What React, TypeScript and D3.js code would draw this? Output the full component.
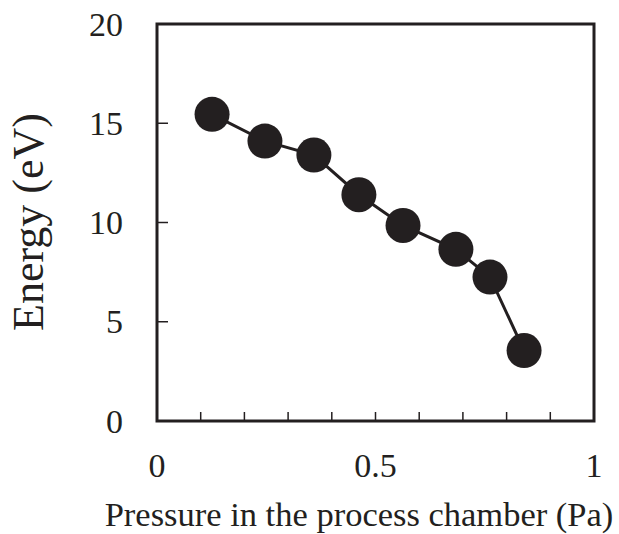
import React, { useEffect, useRef } from "react";
import * as d3 from "d3";

const pressure = [0.126, 0.247, 0.359, 0.462, 0.563, 0.684, 0.762, 0.84];
const energy = [15.45, 14.1, 13.4, 11.4, 9.85, 8.65, 7.25, 3.55];
const xTickLabels = [0, 0.5, 1];
const yTickLabels = [0, 5, 10, 15, 20];

const W = 619;
const H = 534;
const M = { left: 157, right: 25, top: 24, bottom: 113 };
const INK = "#231f20";
const FONT = "'Liberation Serif', 'Times New Roman', serif";

const App = () => {
  const svgRef = useRef<SVGSVGElement>(null);

  useEffect(() => {
    const svg = d3.select(svgRef.current);
    svg.selectAll("*").remove();

    const x = d3.scaleLinear().domain([0, 1]).range([M.left, W - M.right]);
    const y = d3.scaleLinear().domain([0, 20]).range([H - M.bottom, M.top]);

    // minor ticks on x, pointing inward
    svg
      .append("g")
      .selectAll("line")
      .data(d3.range(1, 10).map((i) => i / 10))
      .join("line")
      .attr("x1", (d) => x(d))
      .attr("x2", (d) => x(d))
      .attr("y1", y(0))
      .attr("y2", y(0) - 9)
      .attr("stroke", INK)
      .attr("stroke-width", 1.5);

    // y ticks inward
    svg
      .append("g")
      .selectAll("line")
      .data([5, 10, 15])
      .join("line")
      .attr("x1", x(0))
      .attr("x2", x(0) + 11)
      .attr("y1", (d) => y(d))
      .attr("y2", (d) => y(d))
      .attr("stroke", INK)
      .attr("stroke-width", 1.5);

    // frame
    svg
      .append("rect")
      .attr("x", x(0))
      .attr("y", y(20))
      .attr("width", x(1) - x(0))
      .attr("height", y(0) - y(20))
      .attr("fill", "none")
      .attr("stroke", INK)
      .attr("stroke-width", 3);

    svg
      .append("g")
      .selectAll("text")
      .data(yTickLabels)
      .join("text")
      .attr("x", 123)
      .attr("y", (d) => y(d))
      .attr("dy", "0.34em")
      .attr("text-anchor", "end")
      .attr("font-family", FONT)
      .attr("font-size", 34)
      .attr("fill", INK)
      .text((d) => d);

    svg
      .append("g")
      .selectAll("text")
      .data(xTickLabels)
      .join("text")
      .attr("x", (d) => x(d))
      .attr("y", 477)
      .attr("text-anchor", "middle")
      .attr("font-family", FONT)
      .attr("font-size", 34)
      .attr("fill", INK)
      .text((d) => d);

    svg
      .append("text")
      .attr("x", 359)
      .attr("y", 526)
      .attr("text-anchor", "middle")
      .attr("font-family", FONT)
      .attr("font-size", 34.5)
      .attr("fill", INK)
      .text("Pressure in the process chamber (Pa)");

    svg
      .append("text")
      .attr("transform", `translate(43,222) rotate(-90)`)
      .attr("text-anchor", "middle")
      .attr("font-family", FONT)
      .attr("font-size", 44)
      .attr("fill", INK)
      .text("Energy (eV)");

    const pts = pressure.map((p, i) => [p, energy[i]] as [number, number]);

    svg
      .append("path")
      .datum(pts)
      .attr("fill", "none")
      .attr("stroke", INK)
      .attr("stroke-width", 3)
      .attr(
        "d",
        d3
          .line<[number, number]>()
          .x((d) => x(d[0]))
          .y((d) => y(d[1]))
      );

    svg
      .append("g")
      .selectAll("circle")
      .data(pts)
      .join("circle")
      .attr("cx", (d) => x(d[0]))
      .attr("cy", (d) => y(d[1]))
      .attr("r", 17.5)
      .attr("fill", INK);
  }, []);

  return (
    <svg
      ref={svgRef}
      width={W}
      height={H}
      style={{ position: "absolute", left: 0, top: 0, background: "#fff" }}
    ></svg>
  );
};

export default App;
